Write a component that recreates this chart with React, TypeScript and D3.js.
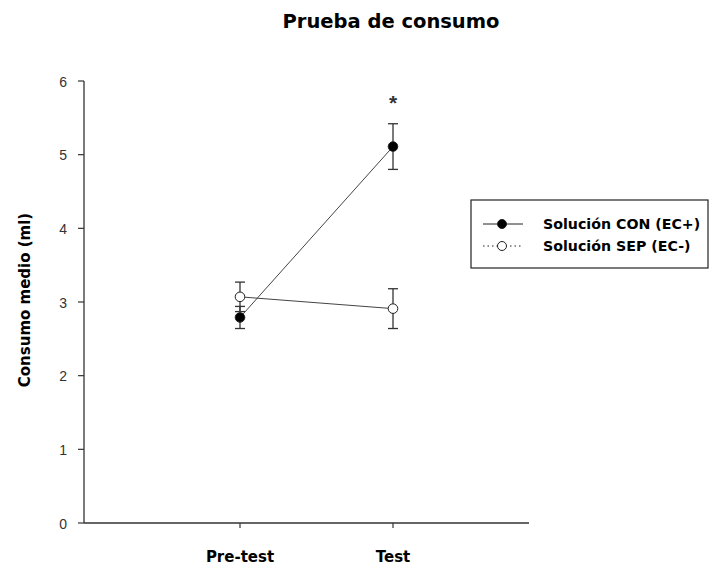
import React from "react";
import * as d3 from "d3";

const categories = ["Pre-test", "Test"];
const conMeans = [2.79, 5.11];
const conErr = [0.15, 0.31];
const sepMeans = [3.07, 2.91];
const sepErr = [0.2, 0.27];
const yTicks = [0, 1, 2, 3, 4, 5, 6];
const seriesNames = ["Solución CON (EC+)", "Solución SEP (EC-)"];

export default function App() {
  const W = 709, H = 565;
  const left = 84, right = 529, top = 81, bottom = 523;
  const y = d3.scaleLinear().domain([0, 6]).range([bottom, top]);
  const x = d3.scalePoint<string>().domain(categories).range([240, 393]).padding(0);
  const line = d3.line<number>().x((_, i) => x(categories[i])!).y((d) => y(d));

  const series = [
    { means: conMeans, err: conErr, fill: "#000", name: seriesNames[0] },
    { means: sepMeans, err: sepErr, fill: "#fff", name: seriesNames[1] },
  ];
  const font = "Tahoma, 'DejaVu Sans', sans-serif";

  return (
    <svg width={W} height={H} style={{ position: "absolute", left: 0, top: 0, background: "#fff" }}>
      <rect width={W} height={H} fill="#fff" />
      <text x={391} y={28} textAnchor="middle" fontFamily={font} fontWeight="bold" fontSize={19.5}>Prueba de consumo</text>
      {/* y axis */}
      <line x1={left} x2={left} y1={top} y2={bottom} stroke="#333" strokeWidth={1.3} />
      {yTicks.map((t) => (
        <g key={t}>
          <line x1={left - 6} x2={left} y1={y(t)} y2={y(t)} stroke="#333" strokeWidth={1.2} />
          <text x={left - 17} y={y(t) + 5.5} textAnchor="end" fontFamily="'Liberation Sans', Arial, sans-serif" fontSize={14} fill="#333">{t}</text>
        </g>
      ))}
      {/* x axis */}
      <line x1={left} x2={right} y1={bottom} y2={bottom} stroke="#333" strokeWidth={1.3} />
      {categories.map((c) => (
        <g key={c}>
          <line x1={x(c)} x2={x(c)} y1={bottom} y2={bottom + 5} stroke="#333" strokeWidth={1.2} />
          <text x={x(c)} y={562} textAnchor="middle" fontFamily={font} fontWeight="bold" fontSize={15}>{c}</text>
        </g>
      ))}
      <text transform={`translate(30,300) rotate(-90)`} textAnchor="middle" fontFamily={font} fontWeight="bold" fontSize={15}>Consumo medio (ml)</text>
      {/* series */}
      {series.map((s, si) => (
        <g key={si}>
          <path d={line(s.means) || ""} fill="none" stroke="#444" strokeWidth={1} />
          {s.means.map((m, i) => {
            const cx = x(categories[i])!;
            return (
              <g key={i}>
                <line x1={cx} x2={cx} y1={y(m - s.err[i])} y2={y(m + s.err[i])} stroke="#333" strokeWidth={1.3} />
                <line x1={cx - 5} x2={cx + 5} y1={y(m - s.err[i])} y2={y(m - s.err[i])} stroke="#333" strokeWidth={1.3} />
                <line x1={cx - 5} x2={cx + 5} y1={y(m + s.err[i])} y2={y(m + s.err[i])} stroke="#333" strokeWidth={1.3} />
              </g>
            );
          })}
          {s.means.map((m, i) => (
            <circle key={"c" + i} cx={x(categories[i])} cy={y(m)} r={4.8} fill={s.fill} stroke="#222" strokeWidth={1} />
          ))}
        </g>
      ))}
      <text x={x("Test")} y={110} textAnchor="middle" fontFamily="'Liberation Sans', Arial, sans-serif" fontWeight="bold" fontSize={21} fill="#333">*</text>
      {/* legend */}
      <rect x={471} y={200} width={237} height={68} fill="#fff" stroke="#222" strokeWidth={1.2} />
      {series.map((s, i) => {
        const ly = 224 + i * 22;
        return (
          <g key={i}>
            <line x1={483} x2={523} y1={ly} y2={ly} stroke="#222" strokeWidth={1} strokeDasharray={i === 1 ? "1.5,3" : undefined} />
            <circle cx={502} cy={ly} r={4.5} fill={s.fill} stroke="#222" strokeWidth={1} />
            <text x={543} y={ly + 5} fontFamily={font} fontWeight="bold" fontSize={14.2}>{s.name}</text>
          </g>
        );
      })}
    </svg>
  );
}
